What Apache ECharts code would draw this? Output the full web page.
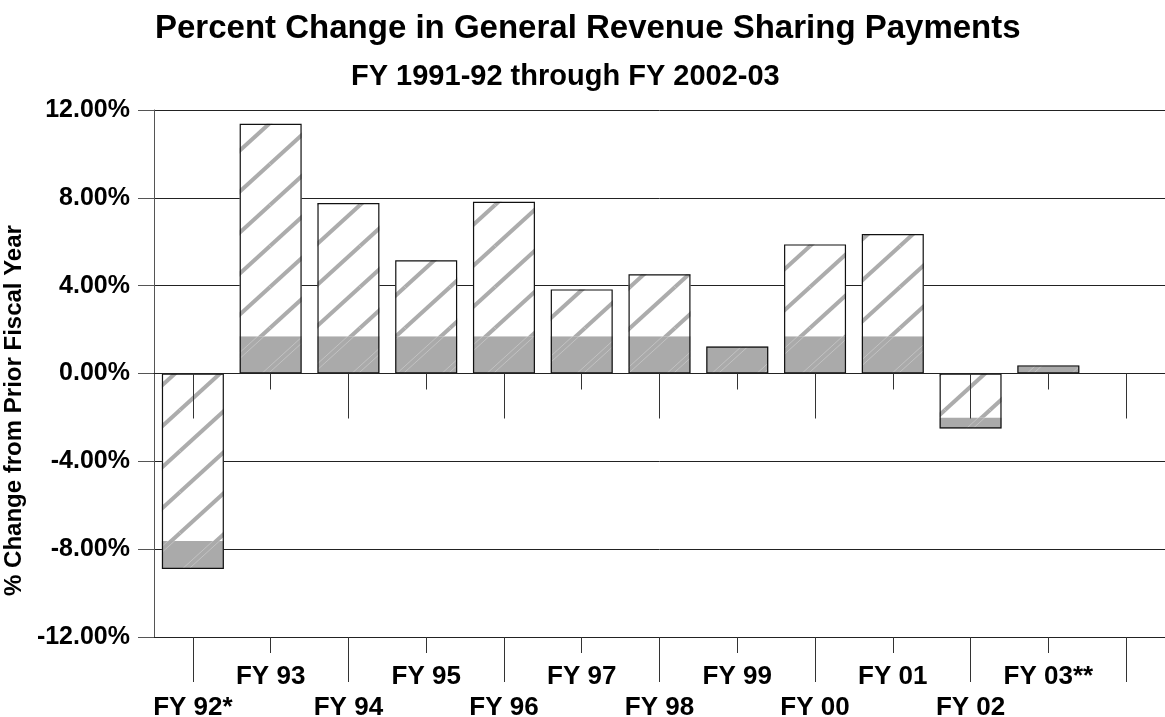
<!DOCTYPE html>
<html>
<head>
<meta charset="utf-8">
<script src="https://cdn.jsdelivr.net/npm/echarts@6/dist/echarts.min.js"></script>
<style>
html,body{margin:0;padding:0;background:#ffffff;}
#chart{width:1165px;height:717px;}
</style>
</head>
<body>
<div id="chart"></div>
<script>
// ---- data ----
const categories = ['FY 92*', 'FY 93', 'FY 94', 'FY 95', 'FY 96', 'FY 97', 'FY 98', 'FY 99', 'FY 00', 'FY 01', 'FY 02', 'FY 03**', ''];
const shadedPart = [-1.27, 1.70, 1.70, 1.70, 1.70, 1.70, 1.70, 1.23, 1.70, 1.70, -0.48, 0.37, null];
const hatchedPart = [-7.63, 9.67, 6.06, 3.46, 6.12, 2.13, 2.82, null, 4.18, 4.65, -2.02, null, null];
const yTicks = [-12, -8, -4, 0, 4, 8, 12];

const titleText = 'Percent Change in General Revenue Sharing Payments';
const subtitleText = 'FY 1991-92 through FY 2002-03';
const yAxisName = '% Change from Prior Fiscal Year';

// ---- derived ----
const shadedPos = shadedPart.map(v => (v != null && v > 0) ? v : null);
const shadedNeg = shadedPart.map(v => (v != null && v < 0) ? v : null);
const totals = shadedPart.map((v, i) => (v == null && hatchedPart[i] == null) ? null : (v || 0) + (hatchedPart[i] || 0));

function makeHatch(bg, line, width, offsets) {
  const W = 45, H = 41;
  const c = document.createElement('canvas');
  c.width = W; c.height = H;
  const ctx = c.getContext('2d');
  ctx.fillStyle = bg; ctx.fillRect(0, 0, W, H);
  ctx.strokeStyle = line; ctx.lineWidth = width;
  const shifts = [[0,0],[-W,0],[W,0],[0,-H],[0,H],[-W,H],[W,-H]];
  offsets.forEach(o => {
    shifts.forEach(([dx, dy]) => {
      ctx.beginPath();
      ctx.moveTo(dx, dy + H + o);
      ctx.lineTo(dx + W, dy + o);
      ctx.stroke();
    });
  });
  return c;
}
const hatchPattern = { image: makeHatch('#ffffff', '#acacac', 4, [0]), repeat: 'repeat' };
const shadePattern = { image: makeHatch('#aaaaaa', '#c2c2c2', 1, [-3, 3]), repeat: 'repeat' };

const FONT = 'Liberation Sans, Arial, sans-serif';
const even = (i) => i % 2 === 0;
const odd = (i) => i % 2 === 1;

const chart = echarts.init(document.getElementById('chart'), null, { renderer: 'canvas' });

const baseX = {
  type: 'category',
  data: categories,
  boundaryGap: true,
  splitLine: { show: false }
};

const option = {
  animation: false,
  backgroundColor: '#ffffff',
  title: [
    { text: titleText, left: 150, top: 7,
      textStyle: { fontFamily: FONT, fontSize: 33, fontWeight: 'bold', color: '#000' } },
    { text: subtitleText, left: 346, top: 57,
      textStyle: { fontFamily: FONT, fontSize: 29, fontWeight: 'bold', color: '#000' } }
  ],
  grid: { left: 154, right: 0, top: 110, bottom: 80, containLabel: false, outerBoundsMode: 'none' },
  xAxis: [
    Object.assign({}, baseX, {
      position: 'bottom',
      axisLine: { show: true, onZero: false, lineStyle: { color: '#222', width: 1 } },
      axisTick: { show: true, alignWithLabel: true, interval: even, length: 45, lineStyle: { color: '#333' } },
      axisLabel: { show: true, interval: even, margin: 58, fontFamily: FONT, fontSize: 26, fontWeight: 'bold', color: '#000' }
    }),
    Object.assign({}, baseX, {
      position: 'bottom',
      axisLine: { show: false, onZero: false },
      axisTick: { show: true, alignWithLabel: true, interval: odd, length: 16, lineStyle: { color: '#333' } },
      axisLabel: { show: true, interval: odd, margin: 27, fontFamily: FONT, fontSize: 26, fontWeight: 'bold', color: '#000' }
    }),
    Object.assign({}, baseX, {
      position: 'bottom', z: 5,
      axisLine: { show: true, onZero: true, onZeroAxisIndex: 0, lineStyle: { color: '#222', width: 1 } },
      axisTick: { show: true, alignWithLabel: true, interval: even, length: 45, lineStyle: { color: '#333' } },
      axisLabel: { show: false }
    }),
    Object.assign({}, baseX, {
      position: 'bottom', z: 5,
      axisLine: { show: false, onZero: true, onZeroAxisIndex: 0 },
      axisTick: { show: true, alignWithLabel: true, interval: odd, length: 16, lineStyle: { color: '#333' } },
      axisLabel: { show: false }
    })
  ],
  yAxis: [{
    type: 'value',
    min: yTicks[0],
    max: yTicks[yTicks.length - 1],
    interval: yTicks[1] - yTicks[0],
    name: yAxisName,
    nameLocation: 'middle',
    nameGap: 114,
    nameTextStyle: { fontFamily: FONT, fontSize: 24, fontWeight: 'bold', color: '#000', padding: [0, 74, 0, 0] },
    axisLine: { show: true, onZero: false, lineStyle: { color: '#555', width: 1 } },
    axisTick: { show: true, length: 16, lineStyle: { color: '#555' } },
    axisLabel: { margin: 24, fontFamily: FONT, fontSize: 25, fontWeight: 'bold', color: '#000',
      formatter: v => v.toFixed(2) + '%' },
    splitLine: { show: true, lineStyle: { color: '#222', width: 1 } }
  }],
  series: [
    { name: 'shadedPos', type: 'bar', stack: 'g', data: shadedPos, barWidth: 62, barGap: '-100%',
      itemStyle: { color: shadePattern }, silent: true },
    { name: 'hatched', type: 'bar', stack: 'g', data: hatchedPart, barWidth: 62, barGap: '-100%',
      itemStyle: { color: hatchPattern }, silent: true },
    { name: 'shadedNeg', type: 'bar', stack: 'g', data: shadedNeg, barWidth: 62, barGap: '-100%',
      itemStyle: { color: shadePattern }, silent: true },
    { name: 'outline', type: 'bar', data: totals, barWidth: 62, barGap: '-100%', z: 3,
      itemStyle: { color: 'rgba(0,0,0,0)', borderColor: '#111', borderWidth: 1.2 }, silent: true }
  ]
};
chart.setOption(option);
</script>
</body>
</html>
